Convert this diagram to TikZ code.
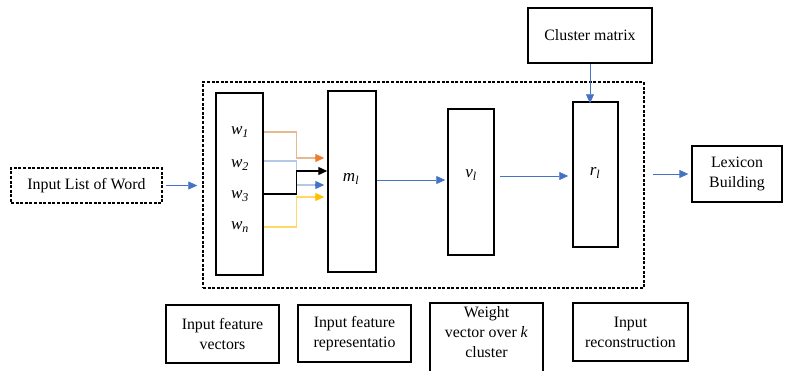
\documentclass[tikz,border=0pt]{standalone}
\usepackage{fontspec}
\setmainfont{Liberation Serif}[Scale=1.22]
\usetikzlibrary{arrows.meta}
\definecolor{arrblue}{HTML}{4472C4}
\definecolor{lorange}{HTML}{E8B98E}
\definecolor{dorange}{HTML}{ED7D31}
\definecolor{lblue}{HTML}{B4C7E7}
\definecolor{lyellow}{HTML}{FFD966}
\definecolor{dyellow}{HTML}{FFC000}
\tikzset{
  box/.style={draw, line width=1.3pt, inner sep=0pt, align=center, font=\fontsize{13}{20}\selectfont},
  txt/.style={inner sep=0pt, align=center, font=\fontsize{13}{20}\selectfont},
  blk/.style={draw, line width=1.5pt, inner sep=0pt},
  dsh/.style={dash pattern=on 3pt off 1.6pt},
  tip/.style={-{Triangle[length=9pt,width=8pt]}},
  flow/.style={draw=arrblue, line width=0.8pt, tip},
  lab/.style={font=\fontsize{14}{19}\selectfont\itshape}
}
\begin{document}
\begin{tikzpicture}[x=1pt,y=-1pt]
\useasboundingbox (0,0) rectangle (793,370);
% frame
\node[draw, dsh, line width=1.5pt, minimum width=441pt, minimum height=206pt, inner sep=0pt] (frame) at (423.5,185) {};
% left input
\node[box, dsh, line width=1.5pt, minimum width=151pt, minimum height=35pt] (input) at (86.5,185.5) {Input List of Word};
% stack blocks
\node[blk, minimum width=47pt, minimum height=182pt] (w) at (239.5,184) {};
\node[blk, minimum width=48pt, minimum height=181pt] (m) at (352,181.5) {};
\node[blk, minimum width=46pt, minimum height=146pt] (v) at (471,182) {};
\node[blk, minimum width=45pt, minimum height=145pt] (r) at (595.5,174.5) {};
\node[box, minimum width=124pt, minimum height=55pt] (cluster) at (590,35.5) {Cluster matrix};
\node[box, minimum width=90pt, minimum height=56pt] (lex) at (737,174) {Lexicon\\Building};
% labels
\node[lab] (w1) at (240,132) {w\textsubscript{1}};
\node[lab] (w2) at (240,165) {w\textsubscript{2}};
\node[lab] (w3) at (240,196) {w\textsubscript{3}};
\node[lab] (wn) at (240,227) {w\textsubscript{n}};
\node[lab] (ml) at (351,179) {m\textsubscript{l}};
\node[lab] (vl) at (471,175) {v\textsubscript{l}};
\node[lab] (rl) at (595,173) {r\textsubscript{l}};
% bottom boxes
\node[box, minimum width=113pt, minimum height=58pt] (b1) at (222.5,334) {Input feature\\vectors};
\node[box, minimum width=113pt, minimum height=57pt] (b2) at (354.5,333.5) {Input feature\\representatio};
\node[box, minimum width=113pt, minimum height=74pt] (b3) at (486.5,340) {};
\node[txt] (b3t) at (486.5,332) {Weight\\vector over \textit{k}\\cluster};
\node[box, minimum width=115pt, minimum height=58pt] (b4) at (630.5,332) {Input\\reconstruction};
% coordinates for w->m links
\coordinate (a1) at (w.east |- 0,132);
\coordinate (a2) at (w.east |- 0,161);
\coordinate (a3) at (w.east |- 0,194);
\coordinate (a4) at (w.east |- 0,227);
\coordinate (e1) at ([xshift=-3pt]m.west |- 0,158);
\coordinate (e2) at ([xshift=-3pt]m.west |- 0,185);
\coordinate (e3) at (m.west |- 0,171);
\coordinate (e4) at ([xshift=-3pt]m.west |- 0,197);
\draw[lorange, line width=1.3pt] (a1) -- ++(33,0) |- ([xshift=-8pt]e1);
\draw[dorange, line width=1.3pt, tip] ([xshift=-9pt]e1) -- (e1);
\draw[lblue, line width=1.3pt] (a2) -- ++(33,0) |- ([xshift=-8pt]e2);
\draw[arrblue, line width=1.3pt, tip] ([xshift=-9pt]e2) -- (e2);
\draw[black, line width=1.3pt, tip] (a3) -- ++(33,0) |- (e3);
\draw[lyellow, line width=1.3pt] (a4) -- ++(33,0) |- ([xshift=-8pt]e4);
\draw[dyellow, line width=1.3pt, tip] ([xshift=-9pt]e4) -- (e4);
% flow arrows
\draw[flow] ([xshift=3pt]input.east) -- ([xshift=-5pt]frame.west |- input.east);
\draw[flow] (m.east |- 0,180) -- ([xshift=-2pt]v.west |- 0,180);
\draw[flow] ([xshift=5pt]v.east |- 0,176) -- ([xshift=-4pt]r.west |- 0,176);
\draw[flow] (cluster.south -| 590,0) -- ([yshift=-2pt]r.north -| 590,0);
\draw[flow] ([xshift=8pt]frame.east |- lex) -- ([xshift=-3pt]lex.west);
\end{tikzpicture}
\end{document}
